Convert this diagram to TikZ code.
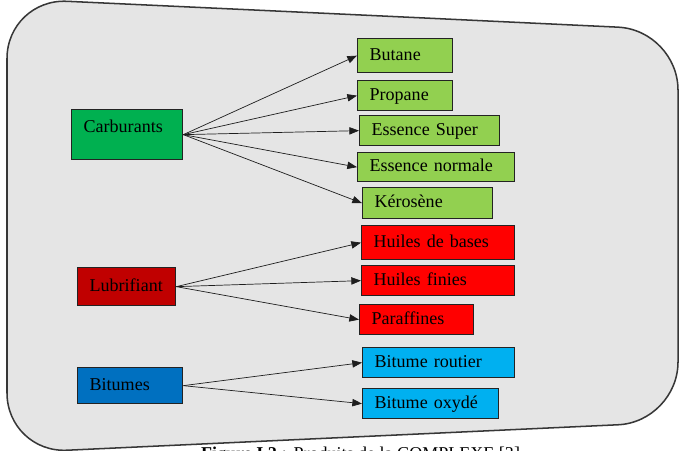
\documentclass[tikz,border=0pt]{standalone}
\usepackage{fontspec}
\setmainfont{Liberation Serif}
\usetikzlibrary{arrows.meta}
\definecolor{panelgray}{RGB}{229,229,229}
\definecolor{panelline}{RGB}{55,55,55}
\definecolor{boxline}{RGB}{35,35,35}
\definecolor{feedline}{RGB}{30,30,30}
\definecolor{carbgreen}{RGB}{0,176,80}
\definecolor{lightgreen}{RGB}{146,208,80}
\definecolor{lubred}{RGB}{192,0,0}
\definecolor{oilred}{RGB}{255,0,0}
\definecolor{bitblue}{RGB}{0,112,192}
\definecolor{skyblue}{RGB}{0,176,240}

\begin{document}
\begin{tikzpicture}[x=0.03cm, y=-0.03cm, every node/.style={font=\fontsize{15.4}{18}\selectfont}]
\tikzset{
    panel/.style={fill=panelgray, draw=panelline, line width=1.3pt, rounded corners=1.8cm},
    box/.style 2 args={draw=boxline, line width=1.1pt, anchor=north west, align=left,
        inner xsep=0.36cm, inner ysep=0.1cm, text width=#1, minimum height=#2,
        text height=0.4cm, text depth=0.12cm},
    feed/.style={draw=feedline, line width=0.6pt, -{Triangle[length=0.29cm,width=0.22cm]}}
}
\useasboundingbox (0,0) rectangle (681,450);
\clip (0,0) rectangle (681,450);

\draw[panel] (340,14) -- (678,30) -- (678,422) -- (7,453) -- (7,-1.5) -- cycle;

% familles
\node[box={2.61cm}{1.5cm}, fill=carbgreen, text depth=0.55cm] (carb) at (71,109) {Carburants};
\node[box={2.22cm}{1.14cm}, fill=lubred] (lub) at (77,267) {Lubrifiant};
\node[box={2.43cm}{1.08cm}, fill=bitblue] (bit) at (77,367) {Bitumes};

% produits
\node[box={2.13cm}{1.02cm}, fill=lightgreen] (butane) at (357,38) {Butane};
\node[box={2.13cm}{0.9cm}, fill=lightgreen] (propane) at (357,80) {Propane};
\node[box={3.48cm}{0.9cm}, fill=lightgreen] (super) at (359,115) {Essence Super};
\node[box={3.99cm}{0.87cm}, fill=lightgreen] (normale) at (357,152) {Essence normale};
\node[box={3.18cm}{0.93cm}, fill=lightgreen] (kero) at (362,187) {Kérosène};
\node[box={3.87cm}{1.02cm}, fill=oilred] (bases) at (361,225) {Huiles de bases};
\node[box={3.87cm}{0.9cm}, fill=oilred] (finies) at (361,265) {Huiles finies};
\node[box={2.70cm}{0.9cm}, fill=oilred] (paraf) at (359,304) {Paraffines};
\node[box={3.84cm}{0.9cm}, fill=skyblue] (routier) at (362,347) {Bitume routier};
\node[box={3.36cm}{0.9cm}, fill=skyblue] (oxyde) at (362,388) {Bitume oxydé};

\draw[feed] (carb.east) -- (butane.west);
\draw[feed] (carb.east) -- (propane.west);
\draw[feed] (carb.east) -- (super.west);
\draw[feed] (carb.east) -- (normale.west);
\draw[feed] (carb.east) -- (kero.west);
\draw[feed] (lub.east) -- (bases.west);
\draw[feed] (lub.east) -- (finies.west);
\draw[feed] (lub.east) -- (paraf.west);
\draw[feed] (bit.east) -- (routier.west);
\draw[feed] (bit.east) -- (oxyde.west);

% legende, coupee par le bord comme dans l'original
\node[anchor=base west] (caption) at (197,459) {\textbf{Figure I.2 :} Produits de la COMPLEXE [3]};

\end{tikzpicture}
\end{document}
